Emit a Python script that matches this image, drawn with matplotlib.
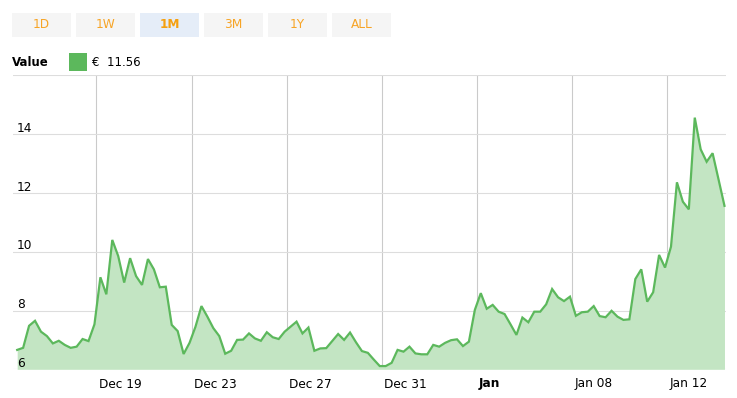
import matplotlib
matplotlib.use("Agg")
import matplotlib.pyplot as plt
import matplotlib.dates as mdates
from matplotlib.patches import Rectangle
import pandas as pd

# ---- data ----
start_time = "2023-12-15 16:00"
step = "6h"
values = [6.66, 6.73, 7.48, 7.65, 7.28, 7.13, 6.88, 6.97, 6.83, 6.73,
          6.77, 7.03, 6.96, 7.53, 9.13, 8.55, 10.40, 9.85, 8.95, 9.78,
          9.17, 8.87, 9.75, 9.40, 8.79, 8.81, 7.51, 7.30, 6.52, 6.90,
          7.45, 8.15, 7.79, 7.40, 7.13, 6.53, 6.63, 7.00, 7.01, 7.22,
          7.05, 6.97, 7.26, 7.09, 7.03, 7.28, 7.45, 7.62, 7.22, 7.42,
          6.63, 6.71, 6.72, 6.96, 7.20, 7.00, 7.25, 6.92, 6.62, 6.56,
          6.33, 6.11, 6.11, 6.22, 6.66, 6.60, 6.77, 6.54, 6.51, 6.51,
          6.83, 6.77, 6.90, 6.99, 7.02, 6.79, 6.94, 8.02, 8.59, 8.06,
          8.19, 7.96, 7.88, 7.53, 7.17, 7.76, 7.60, 7.96, 7.96, 8.21,
          8.73, 8.45, 8.32, 8.47, 7.82, 7.94, 7.96, 8.15, 7.81, 7.77,
          7.99, 7.79, 7.68, 7.70, 9.07, 9.40, 8.30, 8.62, 9.89, 9.46,
          10.17, 12.36, 11.70, 11.44, 14.56, 13.48, 13.06, 13.35, 12.46, 11.56]
tick_dates = ["2023-12-19", "2023-12-23", "2023-12-27", "2023-12-31",
              "2024-01-04", "2024-01-08", "2024-01-12"]
tick_labels = ["Dec 19", "Dec 23", "Dec 27", "Dec 31", "Jan", "Jan 08", "Jan 12"]
bold_labels = ["Jan"]
y_ticks = [6, 8, 10, 12, 14, 16]
y_labels = ["6", "8", "10", "12", "14", ""]
buttons = ["1D", "1W", "1M", "3M", "1Y", "ALL"]
active_button = "1M"
legend_name = "Value"
legend_value = "€  11.56"

times = pd.date_range(start=start_time, periods=len(values), freq=step)
x = mdates.date2num(times.to_pydatetime())

W, H = 737, 398
fig = plt.figure(figsize=(W / 100, H / 100), dpi=100)
fig.patch.set_facecolor("white")

ax_left, ax_right = 12.7, 725.7
ax_top, ax_bottom = 75.3, 369.3
ax = fig.add_axes([ax_left / W, (H - ax_bottom) / H,
                   (ax_right - ax_left) / W, (ax_bottom - ax_top) / H])

green = "#5cb85c"
ax.fill_between(x, values, 6, color="#c3e5c3", linewidth=0, zorder=2)
ax.plot(x, values, color=green, linewidth=1.6, zorder=3,
        solid_joinstyle="miter")

xlim_left = mdates.date2num(pd.Timestamp("2023-12-15 11:28").to_pydatetime())
xlim_right = mdates.date2num(pd.Timestamp("2024-01-14 11:14").to_pydatetime())
ax.set_xlim(xlim_left, xlim_right)
ax.set_ylim(6, 16)

for s in ax.spines.values():
    s.set_visible(False)

tick_x = [mdates.date2num(pd.Timestamp(d).to_pydatetime()) for d in tick_dates]
for tx in tick_x:
    ax.axvline(tx, color="#cacaca", linewidth=0.8, zorder=1)
for yv in y_ticks:
    ax.axhline(yv, color="#dddddd", linewidth=0.8, zorder=1)

ax.set_xticks([])
ax.set_yticks([])

xt = ax.get_xaxis_transform()
for tx, lab in zip(tick_x, tick_labels):
    ax.text(tx + 0.09, -0.05, lab, transform=xt, ha="left", va="center",
            fontsize=8.7, color="#000000",
            fontweight="bold" if lab in bold_labels else "normal",
            family="DejaVu Sans", clip_on=False)

yt = ax.get_yaxis_transform()
for yv, lab in zip(y_ticks, y_labels):
    if lab:
        ax.text(0.006, yv + 0.08, lab, transform=yt, ha="left",
                va="baseline", fontsize=8.7, color="#000000", zorder=4)

# overlay for buttons and legend (pixel coordinates)
ov = fig.add_axes([0, 0, 1, 1], facecolor="none")
ov.set_xlim(0, W)
ov.set_ylim(H, 0)
ov.axis("off")

bx0, bw, bgap = 12, 59, 5.0
for i, b in enumerate(buttons):
    bx = bx0 + i * (bw + bgap)
    active = b == active_button
    ov.add_patch(Rectangle((bx, 12.7), bw, 24,
                           facecolor="#e5edf8" if active else "#f5f5f5",
                           edgecolor="none"))
    ov.text(bx + bw / 2, 25, b, ha="center", va="center", fontsize=8.7,
            color="#f5a010" if active else "#f7a425",
            fontweight="bold" if active else "normal")

ov.text(12, 62.5, legend_name, ha="left", va="center", fontsize=8.5,
        fontweight="bold", color="#000000")
ov.add_patch(Rectangle((69, 52.5), 18, 18, facecolor=green, edgecolor="none"))
ov.text(92, 62.5, legend_value, ha="left", va="center", fontsize=8.5,
        color="#000000")

fig.savefig("out.png", dpi=100, facecolor="white")
